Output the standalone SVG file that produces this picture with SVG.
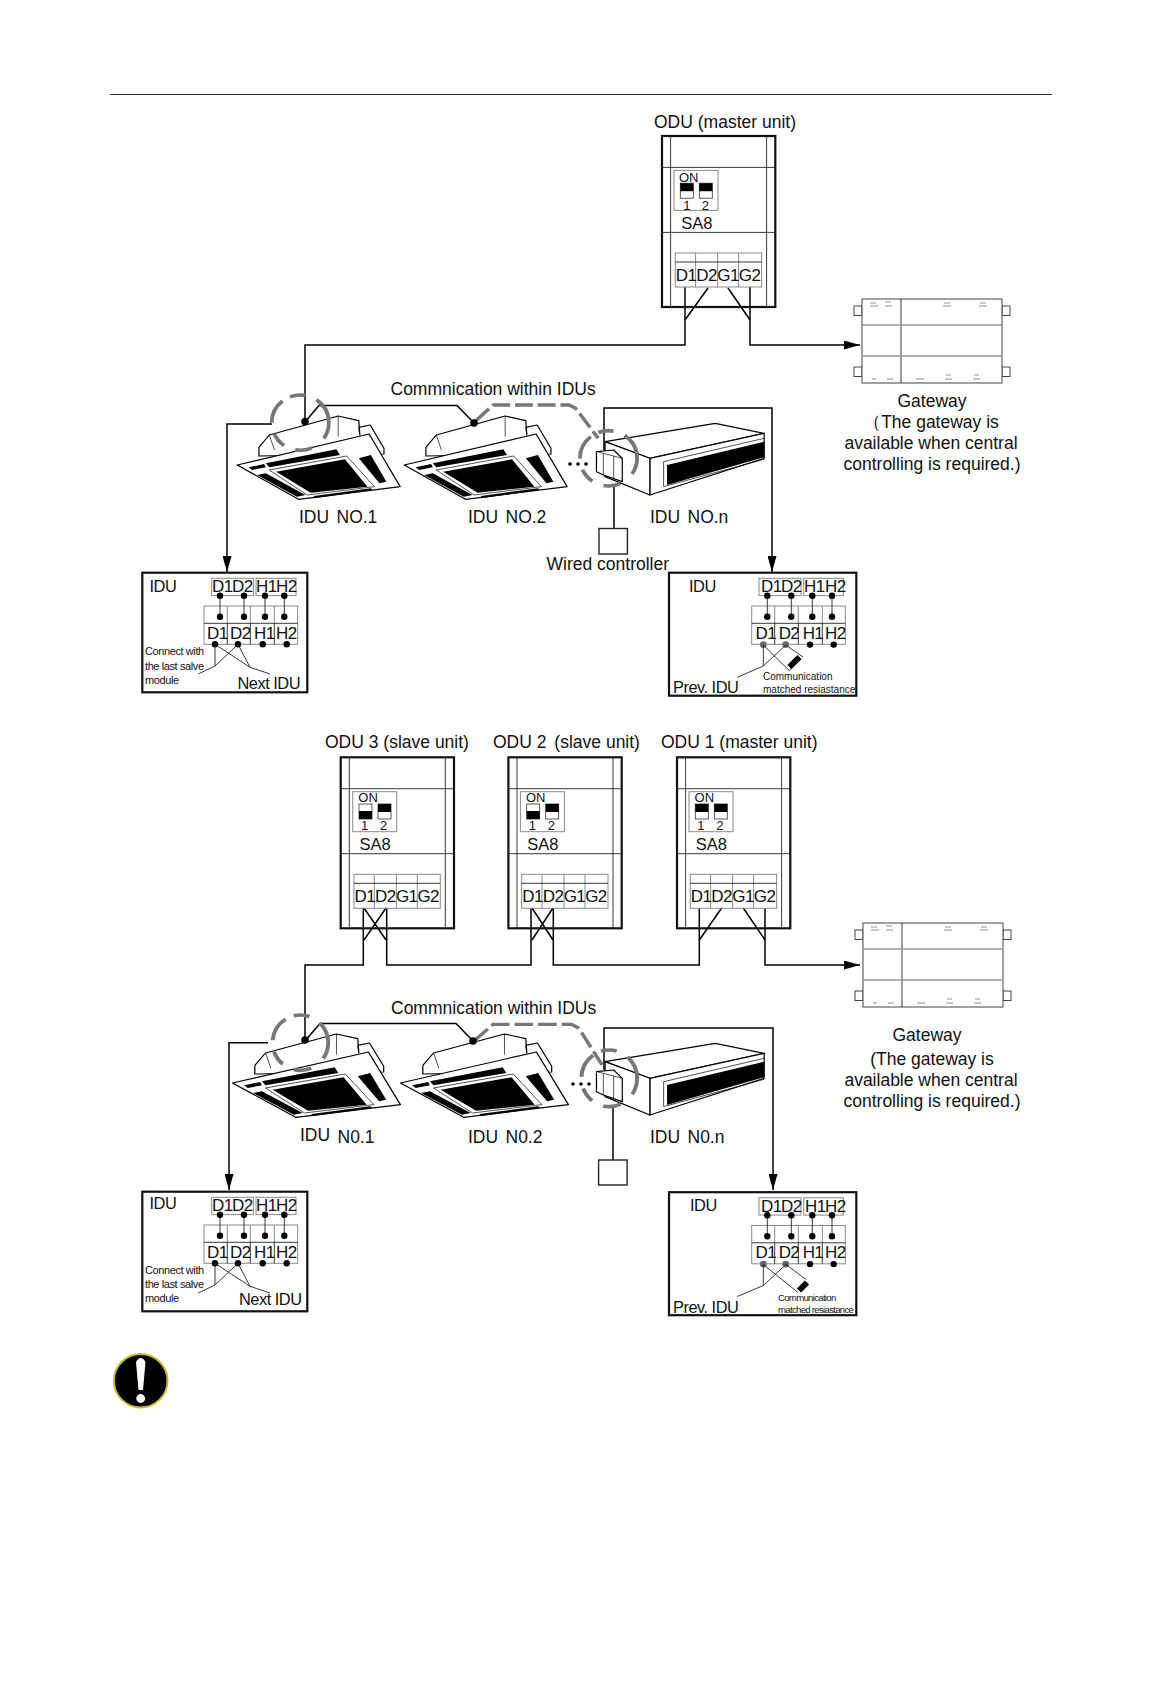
<svg xmlns="http://www.w3.org/2000/svg" width="1162" height="1684" viewBox="0 0 1162 1684">
<style>
text{font-family:"Liberation Sans",Arial,sans-serif;fill:#111}
.f17{font-size:17.5px}
.f16{font-size:17px;letter-spacing:-.6px}
.f16t{font-size:16.4px;letter-spacing:-.5px}
.sa{font-size:16.5px}
.f14{font-size:13px}
.f11{font-size:11px;letter-spacing:-.4px}
.f10{font-size:10px}
.f9{font-size:9.6px;letter-spacing:-.7px}
.w{word-spacing:2.5px}
.m{text-anchor:middle}
.ln{fill:none;stroke:#000;stroke-width:1.5}
.th{fill:none;stroke:#222;stroke-width:.9}
.gr{fill:none;stroke:#8a8a8a;stroke-width:1}
.bd{fill:none;stroke:#111;stroke-width:2.2}
.dot{fill:#000}
.gdot{fill:#666}
.blk{fill:#000}
.art{fill:#fff;stroke:#000;stroke-width:3.5;stroke-linejoin:round}
.ring{fill:none;stroke:#777;stroke-width:11;stroke-dasharray:50 45 50 35 45 35 75 25 45 35 83 0}
.dash{fill:none;stroke:#777;stroke-width:10;stroke-dasharray:52 14}
.gw{fill:#fff;stroke:#444;stroke-width:1}
.gwg{fill:none;stroke:#999;stroke-width:1.6}
.tiny{fill:none;stroke:#777;stroke-width:.8}
</style>
<defs>
<marker id="arr" markerUnits="userSpaceOnUse" markerWidth="17" markerHeight="9" refX="16" refY="4.5" orient="auto"><path d="M0 0L16 4.5L0 9Z" fill="#000"/></marker>
<g id="cassette">
<path class="art" d="M55 258V232L85 195L285 138L345 152L348 195L345 172L378 165L418 235V252Z"/>
<path class="art" style="stroke-width:2" fill="none" d="M285 138V200M85 195L100 240"/>
<path class="art" d="M-8 285L375 192L465 350L170 388Z"/>
<path class="blk" d="M75 280L280 238L290 255L85 292ZM25 292L70 282L75 292L35 300ZM345 265L380 255L425 335L405 340ZM50 315L75 310L190 375L165 380ZM215 378L380 355L385 360L215 385Z"/>
<path d="M85 300L310 258L390 350L195 375Z" fill="#fff" stroke="#000" stroke-width="2"/>
<path class="blk" d="M105 305L305 268L370 350L205 368Z"/>
</g>
<g id="duct">
<path class="art" d="M1060 215L1380 160L1522 190L1190 265Z"/>
<path class="art" d="M1190 265L1522 190V265L1190 375Z"/>
<path class="art" d="M1060 215L1190 265V375L1060 320Z"/>
<path d="M1230 275L1522 205M1230 275V350L1522 268" fill="none" stroke="#000" stroke-width="2"/>
<path class="blk" d="M1240 285L1522 215V262L1240 345Z"/>
<path class="art" d="M1035 245L1085 240L1110 265V335L1055 315L1035 305Z"/>
<path class="art" style="stroke-width:2" d="M1035 245L1055 250V315M1055 250L1110 265M1085 258V325"/>
</g>
<g id="odu-frame">
<rect class="bd" x="340.7" y="757.3" width="113.3" height="171"/>
<path class="th" d="M349.3 757.3V928.3M445.3 757.3V928.3M340.7 788.7H454M340.7 853.7H454"/>
<rect class="gr" x="352.7" y="791.7" width="44" height="40"/>
<rect class="gr" x="354" y="874.3" width="86.3" height="34"/>
<path class="gr" d="M374.3 874.3V908.3M396.3 874.3V908.3M417.3 874.3V908.3"/>
<path class="th" d="M354 883.3H440.3"/>
</g>
<g id="sw-on"><rect x="0" y="0" width="13" height="15" fill="#fff" stroke="#333" stroke-width=".8"/><rect class="blk" width="13" height="8"/></g>
<g id="sw-off"><rect x="0" y="0" width="13" height="15" fill="#fff" stroke="#333" stroke-width=".8"/><rect class="blk" y="7" width="13" height="8"/></g>
<g id="idu-left-frame">
<rect class="bd" x="12.3" y="12.7" width="165" height="119.6"/>
<rect class="gr" x="81.7" y="18.3" width="41.7" height="17.3"/>
<rect class="gr" x="126" y="18.3" width="40" height="17.3"/>
<rect class="gr" x="74" y="46" width="93.7" height="38.3"/>
<path class="gr" d="M97.3 46V63.3M120.3 46V63.3M144.3 46V63.3"/>
<path class="th" d="M74 63.3H167.7M97.3 63.3V84.3M120.3 63.3V84.3M144.3 63.3V84.3"/>
<path class="th" d="M90 35.7V56.7M114 35.7V56.7M135 35.7V56.7M154.3 35.7V56.7"/>
<g class="dot"><circle cx="90" cy="35.7" r="3.2"/><circle cx="114" cy="35.7" r="3.2"/><circle cx="135" cy="35.7" r="3.2"/><circle cx="154.3" cy="35.7" r="3.2"/><circle cx="90" cy="56.7" r="3.2"/><circle cx="114" cy="56.7" r="3.2"/><circle cx="135" cy="56.7" r="3.2"/><circle cx="154.3" cy="56.7" r="3.2"/><circle cx="85" cy="84.3" r="3.2"/><circle cx="108" cy="84.3" r="3.2"/><circle cx="132.7" cy="84.3" r="3.2"/><circle cx="156.7" cy="84.3" r="3.2"/></g>
<path class="th" d="M85 84.3V106L68.3 114M108 84.3L85 106M85 84.3L120 107.3L140 114M108 84.3L120 107.3"/>
</g>
<g id="idu-right-frame">
<rect class="bd" x="9" y="12.7" width="187.3" height="123"/>
<rect class="gr" x="99" y="18.3" width="42" height="17.3"/>
<rect class="gr" x="143.7" y="18.3" width="39.6" height="17.3"/>
<rect class="gr" x="91.7" y="46" width="93.6" height="38.3"/>
<path class="gr" d="M114.7 46V63.3M138.3 46V63.3M162.3 46V63.3"/>
<path class="th" d="M91.7 63.3H185.3M114.7 63.3V84.3M138.3 63.3V84.3M162.3 63.3V84.3"/>
<path class="th" d="M107.3 35.7V56.7M131.3 35.7V56.7M152.3 35.7V56.7M172 35.7V56.7"/>
<g class="dot"><circle cx="107.3" cy="35.7" r="3.2"/><circle cx="131.3" cy="35.7" r="3.2"/><circle cx="152.3" cy="35.7" r="3.2"/><circle cx="172" cy="35.7" r="3.2"/><circle cx="107.3" cy="56.7" r="3.2"/><circle cx="131.3" cy="56.7" r="3.2"/><circle cx="152.3" cy="56.7" r="3.2"/><circle cx="172" cy="56.7" r="3.2"/><circle cx="150" cy="84.6" r="3.2"/><circle cx="173.7" cy="84.6" r="3.2"/></g>
<circle class="gdot" cx="103.3" cy="84.6" r="3.4"/><circle class="gdot" cx="125.7" cy="84.6" r="3.4"/>
</g>
<g id="gateway">
<rect class="gw" x="854" y="306" width="8" height="9.5"/><rect class="gw" x="854" y="367" width="8" height="9.5"/>
<rect class="gw" x="1002" y="306" width="8" height="9.5"/><rect class="gw" x="1002" y="367" width="8" height="9.5"/>
<rect class="gw" x="862" y="299" width="140" height="84"/>
<path class="th" d="M901 299V383"/>
<path class="gwg" d="M862 325H1002M862 356H1002"/>
<path class="tiny" d="M870 303H876M870 306H878M885 302H891M885 306H892M944 303H950M943 306H951M980 303H986M979 306H987M872 379H876M887 379H893M916 379H924M946 375H951M945 379H952M974 375H979M973 379H980"/>
</g>
</defs>

<path id="header-rule" d="M110 94.5H1052" stroke="#333" stroke-width="1.2" fill="none"/>

<g id="idu-units-top">
<use href="#cassette" transform="translate(240 370) scale(.3444 .3333)"/>
<use href="#cassette" transform="translate(407 370) scale(.3444 .3333)"/>
<use href="#duct" transform="translate(240 370) scale(.3444 .3333)"/>
</g>
<g id="idu-units-bottom">
<use href="#cassette" transform="translate(235.3 988) scale(.355 .3333)"/>
<use href="#cassette" transform="translate(403.3 988) scale(.355 .3333)"/>
<use href="#duct" transform="translate(240 990) scale(.3444 .3333)"/>
</g>

<g id="connectors">
<path class="ln" d="M685 287V345H305V422"/>
<path class="ln" d="M708 288L685 320M728 288L750 320"/>
<path class="ln" d="M750 287V345H860" marker-end="url(#arr)"/>
<path class="ln" d="M305 422L319 405.5H457L474 423"/>
<path class="ln" d="M272 424H227V572" marker-end="url(#arr)"/>
<path class="ln" d="M604 450V408H772V572" marker-end="url(#arr)"/>
<path class="ln" d="M614 485V528"/>

<path class="ln" d="M363.3 908V965H305V1041"/>
<path class="ln" d="M386.7 908V965H531V908M553.3 908V965H699.3V908"/>
<path class="ln" d="M364 908L386 940M386 908L364 940M532 908L553 940M553 908L532 940M721.7 908L699.3 940M743.3 908L765 940"/>
<path class="ln" d="M765 908V965H860" marker-end="url(#arr)"/>
<path class="ln" d="M305 1041L320 1023.5H456L473 1041"/>
<path class="ln" d="M268 1042.7H229V1190" marker-end="url(#arr)"/>
<path class="ln" d="M604 1070V1028H773V1190" marker-end="url(#arr)"/>
<path class="ln" d="M613 1105V1160"/>

<g transform="translate(240 370) scale(.3444 .3333)">
<ellipse class="ring" cx="175" cy="158" rx="83" ry="83"/>
<ellipse class="ring" cx="1070" cy="265" rx="83" ry="83"/>
<path class="dash" d="M685 152L735 105H955L975 115L1040 205"/>
</g>
<g transform="translate(220 990) scale(.3571 .3333)">
<ellipse class="ring" cx="225" cy="158" rx="78" ry="83"/>
<ellipse class="ring" cx="1090" cy="265" rx="78" ry="85"/>
<path class="dash" d="M712 152L765 103H985L1005 115L1070 225"/>
</g>
<g class="dot">
<circle cx="305" cy="421.5" r="3.8"/><circle cx="474" cy="423" r="3.8"/>
<circle cx="305" cy="1040" r="3.8"/><circle cx="473" cy="1041" r="3.8"/>
<circle cx="570" cy="464" r="1.8"/><circle cx="578" cy="464" r="1.8"/><circle cx="586" cy="464" r="1.8"/>
<circle cx="573" cy="1084" r="1.8"/><circle cx="581" cy="1084" r="1.8"/><circle cx="589" cy="1084" r="1.8"/>
</g>
</g>

<g id="odu-master-top" transform="translate(321.3 -621.3)">
<use href="#odu-frame"/>
<use href="#sw-on" x="359" y="804.5"/><use href="#sw-on" x="378" y="804.5"/>
<text class="f14" x="357.7" y="803">ON</text>
<text class="f14" x="362" y="831">1</text><text class="f14" x="380.4" y="831">2</text>
<text class="sa" x="360" y="850">SA8</text>
<text class="f16" x="354.5" y="902">D1</text><text class="f16" x="375" y="902">D2</text><text class="f16" x="396" y="902">G1</text><text class="f16" x="417.5" y="902">G2</text>
</g>
<text id="label-odu-master-top" class="f17" x="654" y="128">ODU (master unit)</text>

<g id="gateway-top"><use href="#gateway"/></g>
<g id="gateway-top-text">
<text class="f17 m" x="932" y="407">Gateway</text>
<text class="f17 m" x="931" y="428">（The gateway is</text>
<text class="f17 m" x="931" y="449">available when central</text>
<text class="f17 m" x="932" y="470">controlling is required.)</text>
</g>

<g id="idu-labels-top">
<text class="f17" x="390.5" y="395">Commnication within IDUs</text>
<text class="f17 w" x="299" y="523">IDU NO.1</text>
<text class="f17 w" x="468" y="523">IDU NO.2</text>
<text class="f17 w" x="650" y="523">IDU NO.n</text>
<text class="f17" x="546.5" y="570">Wired controller</text>
</g>
<g id="wired-controller-top"><rect class="th" style="stroke-width:1.4" x="599" y="528.5" width="28.4" height="25.5"/></g>

<g id="idu-detail-left-top" transform="translate(130 560)">
<use href="#idu-left-frame"/>
<text class="f16t" x="19.5" y="32">IDU</text>
<text class="f16" x="82" y="32">D1</text><text class="f16" x="102" y="32">D2</text><text class="f16" x="126" y="32">H1</text><text class="f16" x="146" y="32">H2</text>
<text class="f16" x="77" y="78.7">D1</text><text class="f16" x="100" y="78.7">D2</text><text class="f16" x="124" y="78.7">H1</text><text class="f16" x="146" y="78.7">H2</text>
<text class="f11" x="15" y="95">Connect with</text><text class="f11" x="15" y="110">the last salve</text><text class="f11" x="15" y="124">module</text>
<text class="f16t" x="107.5" y="129">Next IDU</text>
</g>

<g id="idu-detail-right-top" transform="translate(660 560)">
<use href="#idu-right-frame"/>
<path class="th" d="M103.3 85V106L77.3 117.3M125.7 85L103.3 106M103.3 85L129.3 110.7L136 102M125.7 85L143 97"/>
<path d="M129.5 107L139.5 97" stroke="#000" stroke-width="6"/>
<text class="f16t" x="29" y="32">IDU</text>
<text class="f16" x="101" y="32">D1</text><text class="f16" x="121" y="32">D2</text><text class="f16" x="144" y="32">H1</text><text class="f16" x="165" y="32">H2</text>
<text class="f16" x="95.5" y="78.7">D1</text><text class="f16" x="118.7" y="78.7">D2</text><text class="f16" x="142.7" y="78.7">H1</text><text class="f16" x="165" y="78.7">H2</text>
<text class="f16t" x="13" y="133">Prev. IDU</text>
<text class="f10" x="103" y="120">Communication</text><text class="f10" x="103" y="133">matched resiastance</text>
</g>

<g id="odu-3">
<use href="#odu-frame"/>
<use href="#sw-off" x="359" y="804"/><use href="#sw-on" x="378" y="804"/>
<text class="f14" x="358.3" y="801.7">ON</text>
<text class="f14" x="361" y="830">1</text><text class="f14" x="380" y="830">2</text>
<text class="sa" x="359.5" y="850">SA8</text>
<text class="f16" x="354.5" y="902">D1</text><text class="f16" x="375" y="902">D2</text><text class="f16" x="396" y="902">G1</text><text class="f16" x="417.5" y="902">G2</text>
</g>
<g id="odu-2" transform="translate(167.7 0)">
<use href="#odu-frame"/>
<use href="#sw-off" x="359" y="804"/><use href="#sw-on" x="378" y="804"/>
<text class="f14" x="358.3" y="801.7">ON</text>
<text class="f14" x="361" y="830">1</text><text class="f14" x="380" y="830">2</text>
<text class="sa" x="359.5" y="850">SA8</text>
<text class="f16" x="354.5" y="902">D1</text><text class="f16" x="375" y="902">D2</text><text class="f16" x="396" y="902">G1</text><text class="f16" x="417.5" y="902">G2</text>
</g>
<g id="odu-1" transform="translate(336.3 0)">
<use href="#odu-frame"/>
<use href="#sw-on" x="359" y="804"/><use href="#sw-on" x="378" y="804"/>
<text class="f14" x="358.3" y="801.7">ON</text>
<text class="f14" x="361" y="830">1</text><text class="f14" x="380" y="830">2</text>
<text class="sa" x="359.5" y="850">SA8</text>
<text class="f16" x="354.5" y="902">D1</text><text class="f16" x="375" y="902">D2</text><text class="f16" x="396" y="902">G1</text><text class="f16" x="417.5" y="902">G2</text>
</g>
<g id="odu-labels">
<text class="f17" x="325" y="748">ODU 3 (slave unit)</text>
<text class="f17" x="493" y="748">ODU 2 <tspan dx="3">(slave unit)</tspan></text>
<text class="f17" x="661" y="748">ODU 1 (master unit)</text>
</g>

<g id="gateway-bottom" transform="translate(1 624)"><use href="#gateway"/></g>
<g id="gateway-bottom-text">
<text class="f17 m" x="927" y="1041">Gateway</text>
<text class="f17 m" x="932" y="1065">(The gateway is</text>
<text class="f17 m" x="931" y="1086">available when central</text>
<text class="f17 m" x="932" y="1107">controlling is required.)</text>
</g>

<g id="idu-labels-bottom">
<text class="f17" x="391" y="1013.5">Commnication within IDUs</text>
<text class="f17 w" x="300" y="1141">IDU <tspan dy="2">N0.1</tspan></text>
<text class="f17 w" x="468" y="1143">IDU N0.2</text>
<text class="f17 w" x="650" y="1143">IDU N0.n</text>
</g>
<g id="wired-controller-bottom"><rect class="th" style="stroke-width:1.4" x="598.6" y="1160" width="28.5" height="25"/></g>

<g id="idu-detail-left-bottom" transform="translate(130 1179)">
<use href="#idu-left-frame"/>
<text class="f16t" x="19.5" y="30">IDU</text>
<text class="f16" x="82" y="32">D1</text><text class="f16" x="102" y="32">D2</text><text class="f16" x="126" y="32">H1</text><text class="f16" x="146" y="32">H2</text>
<text class="f16" x="77" y="78.7">D1</text><text class="f16" x="100" y="78.7">D2</text><text class="f16" x="124" y="78.7">H1</text><text class="f16" x="146" y="78.7">H2</text>
<text class="f11" x="15" y="95">Connect with</text><text class="f11" x="15" y="109">the last salve</text><text class="f11" x="15" y="123">module</text>
<text class="f16t" x="109" y="126">Next IDU</text>
</g>

<g id="idu-detail-right-bottom" transform="translate(660 1179.5)">
<use href="#idu-right-frame"/>
<path class="th" d="M103.3 85V106L77.3 117M126 85L103.3 106M103.3 85L138 113M126 85L146 100"/>
<path d="M139 111L147 103" stroke="#000" stroke-width="6"/>
<text class="f16t" x="30" y="31">IDU</text>
<text class="f16" x="101" y="32">D1</text><text class="f16" x="121" y="32">D2</text><text class="f16" x="145" y="32">H1</text><text class="f16" x="165" y="32">H2</text>
<text class="f16" x="95.5" y="78.7">D1</text><text class="f16" x="118.7" y="78.7">D2</text><text class="f16" x="142.7" y="78.7">H1</text><text class="f16" x="165" y="78.7">H2</text>
<text class="f16t" x="13" y="133">Prev. IDU</text>
<text class="f9" x="118" y="121">Communication</text><text class="f9" x="118" y="133">matched resiastance</text>
</g>

<g id="warning-icon">
<circle cx="140.7" cy="1380.7" r="26.8" fill="#000" stroke="#c9bb2c" stroke-width="2"/>
<path d="M136 1362Q140.7 1354 145.5 1362L143 1390H138.5Z" fill="#fff"/>
<circle cx="140.7" cy="1398.5" r="4.4" fill="#fff"/>
</g>
</svg>
